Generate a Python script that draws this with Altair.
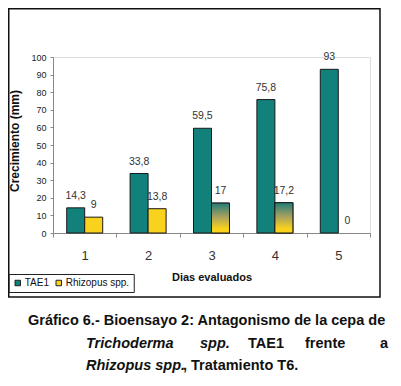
import altair as alt
import pandas as pd
import json

days = [1, 2, 3, 4, 5]
series_names = ["TAE1", "Rhizopus spp."]
tae1 = [14.3, 33.8, 59.5, 75.8, 93]
rhizopus = [9, 13.8, 17, 17.2, 0]
gradient_days = [3, 4]

TEAL = "#12807B"
YELLOW = "#F8D21C"
SANS = "Liberation Sans"

rows = []
for d, a, b in zip(days, tae1, rhizopus):
    rows.append({"day": d, "series": series_names[0], "value": a})
    rows.append({"day": d, "series": series_names[1], "value": b})
df = pd.DataFrame(rows)

x_enc = alt.X(
    "day:O",
    scale=alt.Scale(paddingInner=0, paddingOuter=0),
    axis=alt.Axis(
        title="Dias evaluados", titleFont=SANS, titleFontSize=11, titleFontWeight="bold",
        titleColor="#111", titlePadding=9,
        labelAngle=0, labelFont=SANS, labelFontSize=13, labelColor="#333", labelPadding=12,
        tickBand="extent", tickSize=4, tickColor="#888", domainColor="#888",
    ),
)
xoff = alt.XOffset("series:N", scale=alt.Scale(domain=series_names, paddingInner=0, paddingOuter=0.76))
y_enc = alt.Y(
    "value:Q",
    scale=alt.Scale(domain=[0, 100], nice=False),
    axis=alt.Axis(
        title=None, values=list(range(0, 101, 10)), labelFont=SANS, labelFontSize=9,
        labelColor="#222", tickSize=3, tickColor="#888", domainColor="#888", labelPadding=4,
        grid=False, labelOverlap=False,
    ),
)
color = alt.Color(
    "series:N",
    scale=alt.Scale(domain=series_names, range=[TEAL, YELLOW]),
    legend=alt.Legend(
        title=None, orient="none", legendX=-44.25, legendY=217, direction="horizontal",
        columns=2, symbolType="square", symbolSize=30, symbolStrokeColor="#222",
        symbolStrokeWidth=1, labelFont=SANS, labelFontSize=10, labelColor="#111",
        strokeColor="#222", fillColor="white", padding=4, columnPadding=4, labelOffset=2,
    ),
)
stroke_w = alt.condition(alt.datum.value > 0, alt.value(1), alt.value(0))

base = alt.Chart(df)
bars = base.mark_bar(stroke="#1a1a1a").encode(
    x=x_enc, xOffset=xoff, y=y_enc, color=color, strokeWidth=stroke_w
)
grad = alt.Gradient(
    gradient="linear", x1=0, y1=0, x2=0, y2=1,
    stops=[alt.GradientStop(offset=0, color="#217C77"),
           alt.GradientStop(offset=0.45, color="#A5A060"),
           alt.GradientStop(offset=0.85, color=YELLOW),
           alt.GradientStop(offset=1, color=YELLOW)],
)
grad_filter = "datum.series == '%s' && indexof(%s, datum.day) >= 0" % (
    series_names[1], json.dumps(gradient_days))
grad_bars = base.transform_filter(grad_filter).mark_bar(
    fill=grad, stroke="#1a1a1a", strokeWidth=1
).encode(x=x_enc, xOffset=xoff, y=y_enc)

labels = base.transform_calculate(
    lab="replace(toString(datum.value), '.', ',')"
).mark_text(baseline="bottom", dy=-7, font=SANS, fontSize=10.5, color="#333").encode(
    x=x_enc, xOffset=xoff, y=y_enc, text="lab:N"
)

one = pd.DataFrame({"k": [0]})
frame = alt.Chart(one).mark_rect(fill="transparent", stroke="#111", strokeWidth=1.5).encode(
    x=alt.value(-44.25), x2=alt.value(327), y=alt.value(-48.25), y2=alt.value(240)
)
ytitle = alt.Chart(one).mark_text(
    text="Crecimiento (mm)", angle=270, font=SANS, fontSize=12, fontWeight="bold",
    color="#111", align="center", baseline="middle"
).encode(x=alt.value(-38), y=alt.value(84))

cap_style = dict(font=SANS, fontSize=14.5, fontWeight="bold", color="#111", align="left",
                 baseline="alphabetic")
cap_items = [
    ("Gráfico 6.- Bioensayo 2: Antagonismo de la cepa de", -25, 268, "normal"),
    ("Trichoderma", 33, 291, "italic"),
    ("spp.", 147, 291, "italic"),
    ("TAE1", 195, 291, "normal"),
    ("frente", 252, 291, "normal"),
    ("Rhizopus spp.", 33, 313, "italic"),
    (", Tratamiento T6.", 130, 313, "normal"),
]
caps = []
for t, cx, cy, st in cap_items:
    caps.append(alt.Chart(one).mark_text(text=t, fontStyle=st, **cap_style).encode(
        x=alt.value(cx), y=alt.value(cy)))
caps.append(alt.Chart(one).mark_text(text="a", **{**cap_style, "align": "right"}).encode(
    x=alt.value(335), y=alt.value(291)))

chart = alt.layer(frame, bars, grad_bars, labels, ytitle, *caps).properties(
    width=317, height=176, autosize="none",
    padding={"left": 45, "top": 49, "right": 22, "bottom": 145},
).configure_view(stroke=None).configure(background="white")

chart.save("out.html", embed_options={"renderer": "svg", "actions": False})
